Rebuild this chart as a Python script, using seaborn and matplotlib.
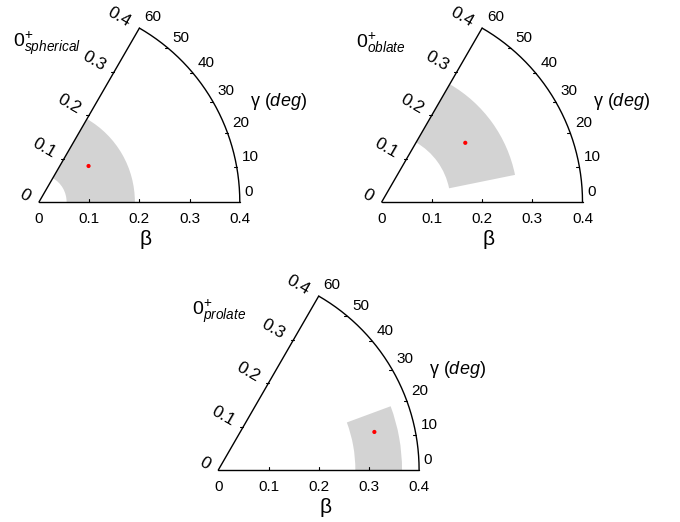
import numpy as np
import pandas as pd
import matplotlib
matplotlib.use("Agg")
import matplotlib.pyplot as plt
from matplotlib.patches import Wedge
import seaborn as sns

# ---------------- data ----------------
panel_names = ["spherical", "oblate", "prolate"]
beta_min = [0.055, 0.137, 0.273]
beta_max = [0.191, 0.271, 0.366]
gamma_min = [0.0, 11.5, 0.0]
gamma_max = [60.0, 60.0, 20.3]
beta_point = [0.122, 0.204, 0.320]
gamma_point = [36.0, 35.3, 13.7]

beta_ticks = [0.0, 0.1, 0.2, 0.3, 0.4]
beta_ticklabels = ["0", "0.1", "0.2", "0.3", "0.4"]
gamma_ticks = [0, 10, 20, 30, 40, 50, 60]
gamma_ticklabels = ["0", "10", "20", "30", "40", "50", "60"]
beta_label = "β"
gamma_label = "γ ($\\mathit{deg}$)"

# ---------------- style ----------------
sns.set_theme(style="white")
plt.rcParams["font.family"] = ["Liberation Sans", "DejaVu Sans"]
plt.rcParams["mathtext.fontset"] = "custom"
plt.rcParams["mathtext.rm"] = "Liberation Sans"
plt.rcParams["mathtext.it"] = "Liberation Sans:italic"
plt.rcParams["mathtext.bf"] = "Liberation Sans:bold"
plt.rcParams["text.color"] = "black"

W, H = 680, 522
DPI = 100
SCALE = 502.0  # pixels per unit of beta
origins = [(39.0, 202.0), (381.7, 202.0), (218.3, 470.0)]
XLIM = (-0.075, 0.56)
YLIM = (-0.10, 0.40)
RMAX = 0.4
GMAX = 60.0
TICK = 3.0 / SCALE

fig = plt.figure(figsize=(W / DPI, H / DPI), dpi=DPI)


def pol(r, g):
    t = np.deg2rad(g)
    return r * np.cos(t), r * np.sin(t)


for i, name in enumerate(panel_names):
    ox, oy = origins[i]
    left = (ox + XLIM[0] * SCALE) / W
    width = (XLIM[1] - XLIM[0]) * SCALE / W
    bottom = ((H - oy) + YLIM[0] * SCALE) / H
    height = (YLIM[1] - YLIM[0]) * SCALE / H
    ax = fig.add_axes([left, bottom, width, height])
    ax.set_xlim(*XLIM)
    ax.set_ylim(*YLIM)
    ax.set_axis_off()

    # grey region (annular sector)
    ax.add_patch(Wedge((0, 0), beta_max[i], gamma_min[i], gamma_max[i],
                       width=beta_max[i] - beta_min[i],
                       facecolor="#d3d3d3", edgecolor="none", zorder=1))

    # frame
    gg = np.linspace(0, GMAX, 300)
    ax.plot(*pol(RMAX, gg), color="black", lw=1.0, zorder=3)
    ax.plot([0, RMAX], [0, 0], color="black", lw=1.0, zorder=3)
    ax.plot(*pol(np.array([0, RMAX]), GMAX), color="black", lw=1.0, zorder=3)

    # beta ticks + labels on baseline and on the 60 deg edge
    for r, lab in zip(beta_ticks, beta_ticklabels):
        if 0 < r < RMAX:
            ax.plot([r, r], [0, TICK], color="black", lw=0.8, zorder=3)
            ex, ey = pol(r, GMAX)
            ax.plot([ex - TICK, ex], [ey, ey], color="black", lw=0.8, zorder=3)
        ax.annotate(lab, xy=(r, 0), xytext=(0, -12.5), textcoords="offset points",
                    ha="center", va="center", fontsize=11, color="black")
        ex, ey = pol(r, GMAX)
        ax.annotate(lab, xy=(ex, ey), xytext=(-7.0, 3.2), textcoords="offset points",
                    ha="right", va="center", rotation=-30, rotation_mode="anchor",
                    fontsize=12.5, color="black")

    # gamma ticks + labels on arc
    for g, lab in zip(gamma_ticks, gamma_ticklabels):
        ax_, ay_ = pol(RMAX, g)
        if 0 < g < GMAX:
            ax.plot([ax_ - TICK, ax_], [ay_, ay_], color="black", lw=0.8, zorder=3)
        dy = 7.5 if g < GMAX else 8.0
        ax.annotate(lab, xy=(ax_, ay_), xytext=(3.4, dy), textcoords="offset points",
                    ha="left", va="center", fontsize=11, color="black")

    # axis titles
    ax.text(0.213, -0.074, beta_label, ha="center", va="center", fontsize=15, color="black")
    ax.text(0.42, 0.200, gamma_label, ha="left", va="center", fontsize=13, color="black")
    ax.text(-0.052, 0.317, "$0^{+}_{\\mathit{" + name + "}}$",
            ha="left", va="center", fontsize=14, color="black")

    # centre point
    px, py = pol(beta_point[i], gamma_point[i])
    sns.scatterplot(x=[px], y=[py], color="red", s=9, edgecolor="none",
                    ax=ax, zorder=4, legend=False)

fig.savefig("out.png", dpi=DPI)
